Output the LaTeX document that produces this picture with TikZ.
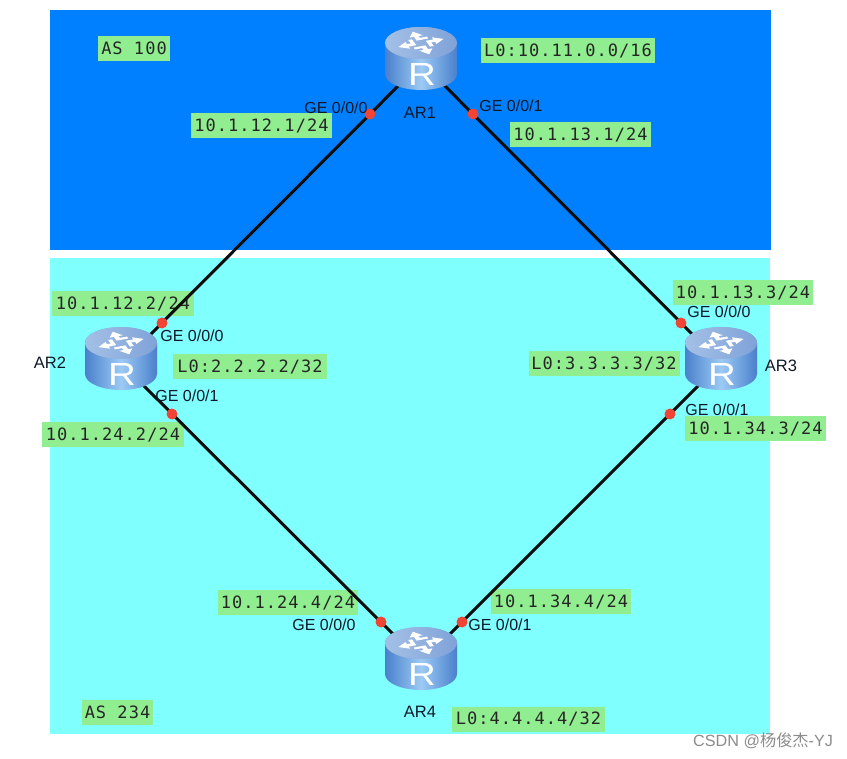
\documentclass[tikz,border=0pt]{standalone}
\usepackage{fontspec}
\setmainfont{Liberation Sans}
\newfontfamily\ipmono[LetterSpace=6]{DejaVu Sans Mono}
\newfontfamily\cjkwm{Noto Sans CJK SC}
\definecolor{asblue}{HTML}{0080FF}
\definecolor{ascyan}{HTML}{80FFFF}
\definecolor{tagreen}{HTML}{90EE90}
\definecolor{dotred}{HTML}{F04535}
\definecolor{txt}{HTML}{101828}
\definecolor{rlo}{HTML}{4A80CC}
\definecolor{rhi}{HTML}{9CCAF4}
\definecolor{rtopa}{HTML}{A4C0E6}
\definecolor{rtopb}{HTML}{7FA2D8}
\tikzset{
  x=1pt,y=-1pt,
  panel/.style={draw=none,anchor=north west,inner sep=0pt,outer sep=0pt},
  iptag/.style={fill=tagreen,inner sep=0pt,minimum height=25pt,text=black!85,font=\ipmono\fontsize{17}{17}\selectfont},
  port/.style={inner sep=0pt,text=txt,font=\fontsize{16}{16}\selectfont},
  devname/.style={inner sep=0pt,text=txt,font=\fontsize{16.5}{17}\selectfont},
  link/.style={draw=black!95,line width=3pt},
  portdot/.style={circle,fill=dotred,minimum size=11pt,inner sep=0pt,draw=none},
  routernode/.style={inner sep=0pt,minimum width=72pt,minimum height=64pt,draw=none},
  pics/routerpic/.style={code={
    \shade[left color=rlo,right color=rlo,middle color=rhi]
      (-36,-15) -- (-36,16) arc[start angle=180,end angle=0,x radius=36,y radius=16] -- (36,-15)
      arc[start angle=0,end angle=-180,x radius=36,y radius=16] -- cycle;
    \shade[left color=rtopa,right color=rtopb]
      (0,-15) ellipse[x radius=36,y radius=16];
    \begin{scope}[shift={(0,-15)},yscale=0.5]
      \foreach \a in {20,110,200,290}{
        \begin{scope}[rotate=\a]
          \fill[white] (6,-2.5) -- (14,-2.5) -- (14,-7) -- (24,0) -- (14,7) -- (14,2.5) -- (10,2.5) -- (10,10) -- (6,10) -- cycle;
        \end{scope}
      }
    \end{scope}
    \node[inner sep=0pt,text=white,xscale=1.2,font=\fontsize{32}{32}\selectfont] at (1,16.5) {R};
  }}
}
\begin{document}
\begin{tikzpicture}
\useasboundingbox (0,0) rectangle (847,759);
\fill[white] (0,0) rectangle (847,759);
\node[panel,fill=asblue,minimum width=721pt,minimum height=240pt] (asa) at (50,10) {};
\node[panel,fill=ascyan,minimum width=720pt,minimum height=476pt] (asb) at (50,258) {};

% tags
\node[iptag,minimum width=72pt] (t1) at (134,48.5) {AS 100};
\node[iptag,minimum width=174pt] (t2) at (568,50.5) {L0:10.11.0.0/16};
\node[iptag,minimum width=141pt] (t3) at (261.5,125.5) {10.1.12.1/24};
\node[iptag,minimum width=141pt] (t4) at (580.5,134.5) {10.1.13.1/24};
\node[iptag,minimum width=142pt] (t5) at (123,304) {10.1.12.2/24};
\node[iptag,minimum width=154pt] (t6) at (250,367) {L0:2.2.2.2/32};
\node[iptag,minimum width=142pt] (t7) at (113,434.5) {10.1.24.2/24};
\node[iptag,minimum width=140pt] (t8) at (743,292.5) {10.1.13.3/24};
\node[iptag,minimum width=151pt] (t9) at (604,364) {L0:3.3.3.3/32};
\node[iptag,minimum width=141pt] (t10) at (755.5,428.5) {10.1.34.3/24};
\node[iptag,minimum width=140pt] (t11) at (288,602.5) {10.1.24.4/24};
\node[iptag,minimum width=140pt] (t12) at (561,601.5) {10.1.34.4/24};
\node[iptag,minimum width=71pt] (t13) at (117.5,712.5) {AS 234};
\node[iptag,minimum width=153pt] (t14) at (528.5,719) {L0:4.4.4.4/32};

% routers (anchors for links)
\node[routernode] (AR1) at (421,58) {};
\node[routernode] (AR2) at (121,358) {};
\node[routernode] (AR3) at (721,358) {};
\node[routernode] (AR4) at (421,658) {};

% links
\draw[link] ([shift={(-1,6)}]AR1.center) -- ([shift={(1,5)}]AR2.center);
\draw[link] ([shift={(-1,3)}]AR1.center) -- ([shift={(-1,4)}]AR3.center);
\draw[link] ([shift={(1,6)}]AR2.center) -- ([shift={(1,5)}]AR4.center);
\draw[link] ([shift={(-1,6)}]AR3.center) -- ([shift={(1,4)}]AR4.center);

% routers
\pic at (AR1.center) {routerpic};
\pic at (AR2.center) {routerpic};
\pic at (AR3.center) {routerpic};
\pic at (AR4.center) {routerpic};

% port dots
\node[portdot] (d1) at (370,114) {};
\node[portdot] (d2) at (473,114) {};
\node[portdot] (d3) at (162,323) {};
\node[portdot] (d4) at (172,414) {};
\node[portdot] (d5) at (681,323) {};
\node[portdot] (d6) at (670,414) {};
\node[portdot] (d7) at (381,622) {};
\node[portdot] (d8) at (462,622) {};

% port labels
\node[port] (p1) at (336,108) {GE 0/0/0};
\node[port] (p2) at (511,106) {GE 0/0/1};
\node[port] (p3) at (192,336) {GE 0/0/0};
\node[port] (p4) at (187,396) {GE 0/0/1};
\node[port] (p5) at (719,312) {GE 0/0/0};
\node[port] (p6) at (717,410) {GE 0/0/1};
\node[port] (p7) at (324,625) {GE 0/0/0};
\node[port] (p8) at (500,625) {GE 0/0/1};

% device names
\node[devname] (n1) at (420,113) {AR1};
\node[devname] (n2) at (50,363) {AR2};
\node[devname] (n3) at (781,366) {AR3};
\node[devname] (n4) at (420,712) {AR4};

% watermark
\node[inner sep=0pt,anchor=west,text=black!45,font=\fontsize{16.2}{16}\selectfont] (wm) at (693,741) {CSDN @{\cjkwm 杨俊杰}-YJ};
\end{tikzpicture}
\end{document}
